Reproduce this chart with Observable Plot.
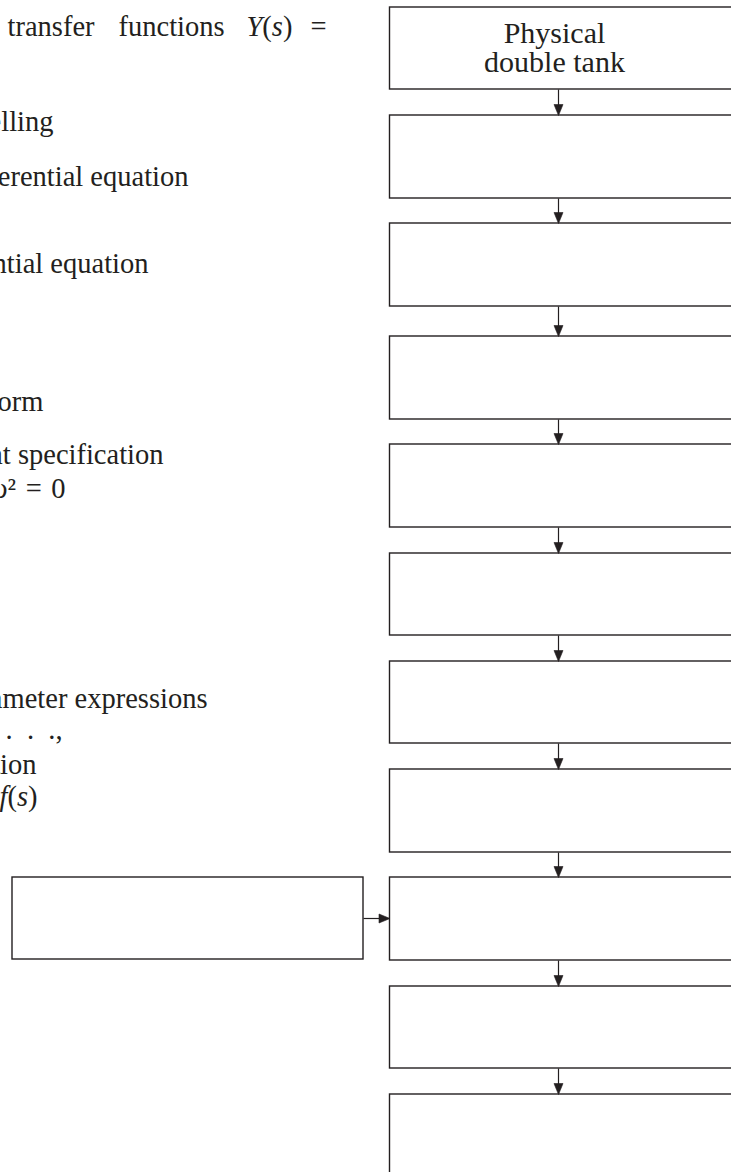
<!DOCTYPE html>
<html>
<head>
<meta charset="utf-8">
<script src="https://cdn.jsdelivr.net/npm/d3@7"></script>
<script src="https://cdn.jsdelivr.net/npm/@observablehq/plot@0.6"></script>
<style>
  html, body { margin: 0; padding: 0; background: #fff; }
  #chart svg { display: block; }
</style>
</head>
<body>
<div id="chart"></div>
<script>
// ---- Data (diagram units) ----
const boxTops    = [7, 115, 223, 336, 444, 553, 661, 769, 877, 986, 1094];
const boxBottoms = [89, 198, 306, 419, 527, 635, 743, 852, 960, 1068, 1180];
const boxLabels  = [["Physical", "double tank"], [], [], [], [], [], [], [], [], [], []];
const columnLeft = 389.5, columnRight = 760, columnArrowX = 558;
const sideBox = [{x1: 12, x2: 363, y1: 877, y2: 959}];

// left-hand page text (cropped on the left edge)
const bodyWords = [
  {text: "transfer", x: 7, y: 35},
  {text: "functions", x: 118, y: 35},
  {text: "_Y_(_s_)", x: 246, y: 35},
  {text: "=", x: 310, y: 35}
];
const bodyLines = [
  {text: "Modelling", xEnd: 53, y: 130},
  {text: "Nonlinear differential equation", xEnd: 188, y: 185},
  {text: "Linear differential equation", xEnd: 148, y: 272},
  {text: "Laplace transform", xEnd: 43, y: 410},
  {text: "Requirement specification", xEnd: 163, y: 463},
  {text: "_s_² + 2_ζω_ _s_ + _ω_²\u2004=\u20040", xEnd: 65, y: 497},
  {text: "Controller parameter expressions", xEnd: 207, y: 707},
  {text: "_K_, _T_,\u2003.\u2002.\u2002.,", xEnd: 62, y: 738},
  {text: "Simulation", xEnd: 36, y: 773},
  {text: "function _f_(_s_)", xEnd: 37, y: 805}
];

// ---- Derived tables ----
const boxes = boxTops.map((t, i) => ({x1: columnLeft, x2: columnRight, y1: t, y2: boxBottoms[i]}));
const links = boxTops.slice(1).map((t, i) => ({x: columnArrowX, y1: boxBottoms[i], y2: t - 6, tipY: t}));
const sideLinks = sideBox.map(b => {
  const ym = (b.y1 + b.y2) / 2;
  return {x1: b.x2, x2: columnLeft - 6, y: ym, tipX: columnLeft};
});
const boxText = boxes.flatMap((b, i) =>
  boxLabels[i].map((s, j, arr) => ({
    text: s, x: 554, y: (b.y1 + b.y2) / 2 + (j - (arr.length - 1) / 2) * 29 + 9
  })));

const headSymbol = {
  draw(ctx) { ctx.moveTo(0, 0); ctx.lineTo(-4.5, -11); ctx.lineTo(4.5, -11); ctx.closePath(); }
};

const ink = "#231f20";
const serif = "'Liberation Serif', 'Times New Roman', serif";

const chart = Plot.plot({
  width: 731,
  height: 1172,
  margin: 0,
  x: {domain: [0, 731], range: [0, 731], axis: null},
  y: {domain: [0, 1172], range: [0, 1172], axis: null},
  style: {background: "#fff", fontFamily: serif},
  marks: [
    Plot.rect(boxes, {x1: "x1", x2: "x2", y1: "y1", y2: "y2", fill: "none", stroke: ink, strokeWidth: 1.4}),
    Plot.rect(sideBox, {x1: "x1", x2: "x2", y1: "y1", y2: "y2", fill: "none", stroke: ink, strokeWidth: 1.4}),
    Plot.link(links, {x1: "x", x2: "x", y1: "y1", y2: "y2", stroke: ink, strokeWidth: 1.2}),
    Plot.dot(links, {x: "x", y: "tipY", symbol: headSymbol, fill: ink, stroke: ink, strokeWidth: 0.6}),
    Plot.link(sideLinks, {x1: "x1", x2: "x2", y1: "y", y2: "y", stroke: ink, strokeWidth: 1.2}),
    Plot.dot(sideLinks, {x: "tipX", y: "y", symbol: headSymbol, rotate: -90, fill: ink, stroke: ink, strokeWidth: 0.6}),
    Plot.text(boxText, {x: "x", y: "y", text: "text", fontSize: 30, fill: ink, textAnchor: "middle", lineAnchor: "bottom"}),
    Plot.text(bodyWords, {x: "x", y: "y", text: "text", fontSize: 28.5, fill: ink, textAnchor: "start", lineAnchor: "bottom"}),
    Plot.text(bodyLines, {x: "xEnd", y: "y", text: "text", fontSize: 28.5, fill: ink, textAnchor: "end", lineAnchor: "bottom"})
  ]
});

// turn _x_ markup into italic tspans
d3.select(chart).selectAll("text").each(function () {
  const s = this.textContent;
  if (!s.includes("_")) return;
  const parts = s.split("_");
  this.textContent = "";
  parts.forEach((p, i) => {
    if (!p) return;
    const t = document.createElementNS("http://www.w3.org/2000/svg", "tspan");
    t.textContent = p;
    if (i % 2 === 1) t.setAttribute("font-style", "italic");
    this.appendChild(t);
  });
});

document.getElementById("chart").appendChild(chart);
</script>
</body>
</html>
